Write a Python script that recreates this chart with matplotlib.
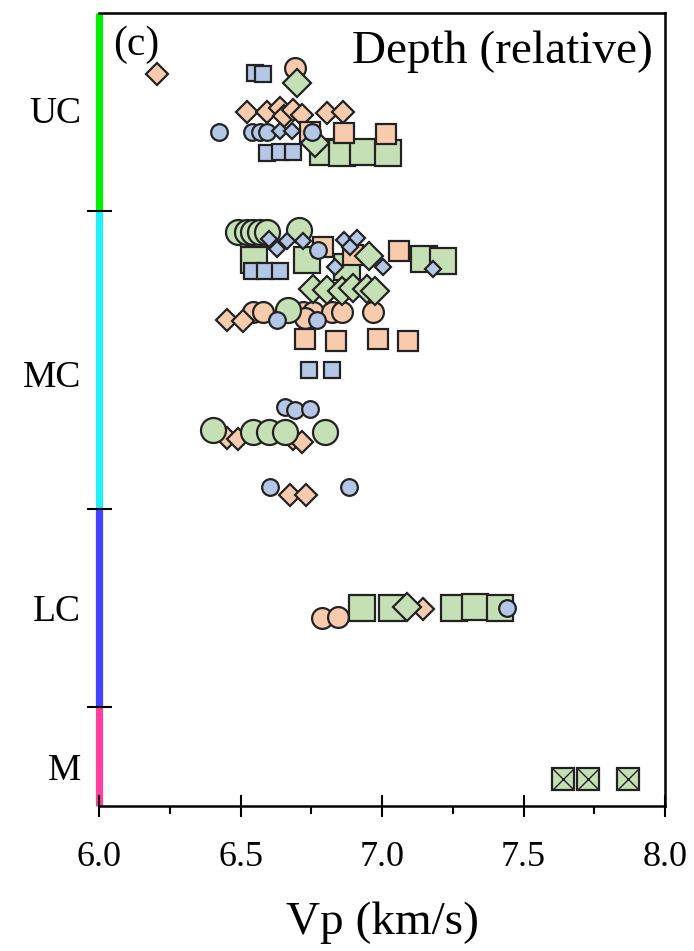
import matplotlib.pyplot as plt
from matplotlib.ticker import MultipleLocator, FixedLocator

plt.rcParams['font.family'] = ['Liberation Serif', 'DejaVu Serif']

# crustal layers on the relative depth axis
layer_names = ['UC', 'MC', 'LC', 'M']
layer_top = [0.0, 1.0, 2.5, 3.5]
layer_bottom = [1.0, 2.5, 3.5, 4.0]
layer_label_pos = [0.49, 1.82, 3.0, 3.80]
layer_colors = ['#00F000', '#22F0FF', '#4444FF', '#FF40A0']

# orange group
orange_circle_vp = [6.693, 6.545, 6.581, 6.722, 6.757, 6.822, 6.857, 6.967, 6.728, 6.787, 6.846]
orange_circle_z = [0.279, 1.507, 1.507, 1.507, 1.507, 1.507, 1.507, 1.507, 1.538, 3.050, 3.045]
orange_diamond_vp = [6.206, 6.522, 6.593, 6.640, 6.654, 6.687, 6.717, 6.805, 6.863,
                     6.451, 6.510, 6.451, 6.492, 6.687, 6.716, 6.675, 6.731, 7.144]
orange_diamond_z = [0.308, 0.499, 0.499, 0.479, 0.520, 0.489, 0.515, 0.504, 0.499,
                    1.549, 1.552, 2.145, 2.150, 2.150, 2.162, 2.431, 2.431, 3.006]
orange_square_vp = [6.746, 6.866, 7.013, 6.793, 6.896, 7.060, 6.728, 6.837, 6.985, 7.093]
orange_square_z = [0.599, 0.604, 0.612, 1.179, 1.221, 1.199, 1.646, 1.656, 1.646, 1.653]

# green group
green_square_vp = [6.793, 6.860, 6.934, 7.022, 6.548, 6.734, 6.875, 7.149, 7.217,
                   6.928, 7.037, 7.256, 7.329, 7.417]
green_square_z = [0.700, 0.705, 0.700, 0.705, 1.246, 1.246, 1.280, 1.241, 1.249,
                  3.003, 3.000, 3.003, 2.998, 3.003]
green_circle_vp = [6.492, 6.522, 6.545, 6.569, 6.595, 6.707, 6.669,
                   6.404, 6.545, 6.602, 6.657, 6.799]
green_circle_z = [1.103, 1.103, 1.103, 1.103, 1.103, 1.095, 1.498,
                  2.103, 2.112, 2.112, 2.112, 2.112]
green_diamond_vp = [6.698, 6.763, 6.955, 6.757, 6.805, 6.858, 6.898, 6.946, 6.975, 7.087]
green_diamond_z = [0.355, 0.657, 1.226, 1.392, 1.397, 1.402, 1.387, 1.392, 1.402, 2.995]
mantle_vp = [7.641, 7.729, 7.870]
mantle_z = [3.864, 3.864, 3.864]

# blue group
blue_square_vp = [6.551, 6.581, 6.593, 6.640, 6.687, 6.540, 6.587, 6.640, 6.743, 6.822]
blue_square_z = [0.301, 0.308, 0.705, 0.700, 0.700, 1.300, 1.300, 1.300, 1.801, 1.801]
blue_circle_vp = [6.424, 6.540, 6.569, 6.593, 6.752, 6.775, 6.628, 6.769,
                  6.657, 6.693, 6.746, 6.604, 6.884, 7.443]
blue_circle_z = [0.602, 0.602, 0.602, 0.602, 0.602, 1.195, 1.549, 1.549,
                 1.986, 2.003, 1.999, 2.389, 2.389, 3.003]
blue_diamond_vp = [6.640, 6.681, 6.602, 6.628, 6.663, 6.722, 6.866, 6.910, 6.887,
                   6.834, 7.005, 7.181]
blue_diamond_z = [0.595, 0.595, 1.142, 1.192, 1.148, 1.148, 1.145, 1.136, 1.179,
                  1.280, 1.280, 1.293]

ORANGE = '#F8CBAD'
GREEN = '#C5E0B4'
BLUE = '#B4C7E7'
EDGE = '#222222'

fig = plt.figure(figsize=(6.94, 9.51), dpi=100)
ax = fig.add_axes([99 / 694, 145 / 951, 566 / 694, 793 / 951])

series = [
    (orange_circle_vp, orange_circle_z, 'o', ORANGE, 15.0),
    (orange_diamond_vp, orange_diamond_z, 'D', ORANGE, 11.6),
    (green_square_vp, green_square_z, 's', GREEN, 18.6),
    (green_circle_vp, green_circle_z, 'o', GREEN, 18.0),
    (orange_square_vp, orange_square_z, 's', ORANGE, 15.0),
    (green_diamond_vp, green_diamond_z, 'D', GREEN, 14.2),
    (blue_square_vp, blue_square_z, 's', BLUE, 11.8),
    (blue_circle_vp, blue_circle_z, 'o', BLUE, 12.0),
    (blue_diamond_vp, blue_diamond_z, 'D', BLUE, 8.0),
]
for i, (vp, z, mk, col, ms) in enumerate(series):
    ax.plot(vp, z, ls='none', marker=mk, ms=ms, mfc=col, mec=EDGE, mew=1.6, zorder=3 + i)

# mantle samples: crossed squares
ax.plot(mantle_vp, mantle_z, ls='none', marker='s', ms=16, mfc=GREEN, mec=EDGE, mew=1.6, zorder=20)
ax.plot(mantle_vp, mantle_z, ls='none', marker='x', ms=16, mec=EDGE, mew=1.0, zorder=21)

ax.set_xlim(6.0, 8.0)
ax.set_ylim(4.0, 0.0)

# coloured depth bar in place of the left spine
for top, bot, col in zip(layer_top, layer_bottom, layer_colors):
    ax.plot([6.0, 6.0], [top, bot], color=col, lw=5.2, solid_capstyle='butt',
            clip_on=False, zorder=2)
ax.spines['left'].set_visible(False)
for s in ['top', 'right', 'bottom']:
    ax.spines[s].set_linewidth(1.8)
ax.set_axisbelow(False)

ax.xaxis.set_major_locator(MultipleLocator(0.5))
ax.xaxis.set_minor_locator(MultipleLocator(0.25))
ax.tick_params(axis='x', which='major', direction='inout', length=16, width=1.5,
               labelsize=26, pad=17)
ax.tick_params(axis='x', which='minor', direction='out', length=6, width=1.5)
ax.set_xticks([6.0, 6.5, 7.0, 7.5, 8.0])
ax.set_xticklabels(['6.0', '6.5', '7.0', '7.5', '8.0'])

ax.yaxis.set_major_locator(FixedLocator(layer_bottom[:-1]))
ax.yaxis.set_minor_locator(FixedLocator(layer_label_pos))
ax.set_yticklabels([], minor=False)
ax.set_yticklabels(layer_names, minor=True)
ax.tick_params(axis='y', which='major', direction='inout', length=18, width=1.5)
ax.tick_params(axis='y', which='minor', length=0, labelsize=27, pad=13)

ax.set_xlabel('Vp (km/s)', fontsize=34, labelpad=20)
ax.text(0.979, 0.937, 'Depth (relative)', transform=ax.transAxes, ha='right',
        va='baseline', fontsize=34)
ax.text(0.025, 0.947, '(c)', transform=ax.transAxes, ha='left', va='baseline', fontsize=30)

fig.savefig('out.png', dpi=100)
